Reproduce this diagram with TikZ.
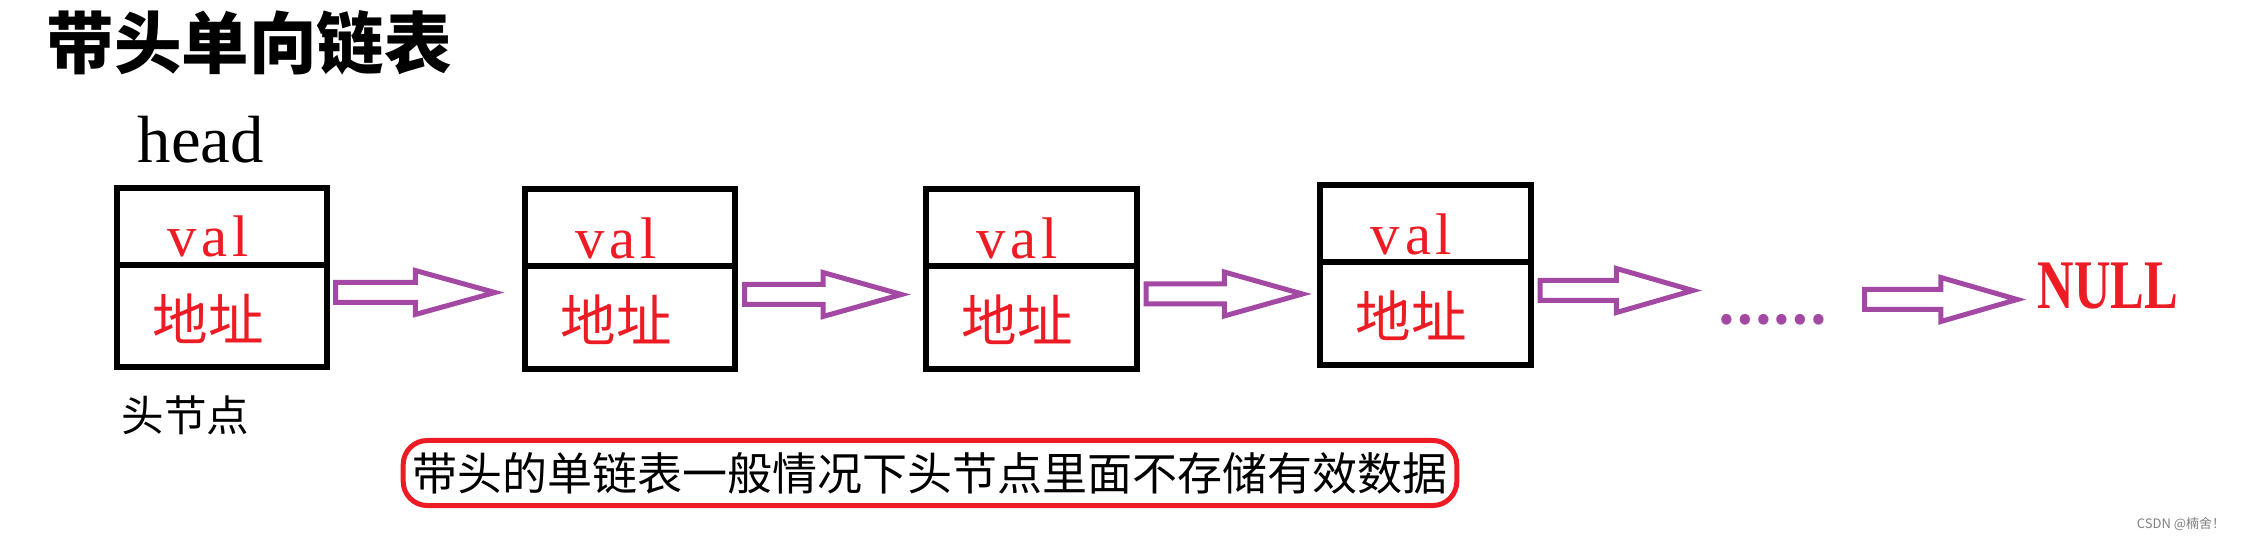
\documentclass[tikz,border=0pt]{standalone}
\usepackage{fontspec}
\usepackage{xcolor}
\usepackage{graphicx}
\usepackage{tikz}
\usetikzlibrary{calc,positioning}
\setmainfont{Liberation Serif}
\newfontfamily\cjk{Noto Sans CJK SC}
\newfontfamily\valfont{Liberation Serif}[LetterSpace=8]
\definecolor{llpurple}{HTML}{A349A4}
\definecolor{llred}{HTML}{ED1C24}

\begin{document}
\begin{tikzpicture}[
    x=0.01cm,y=-0.01cm,
    nodebox/.style={draw=black,line width=0.06cm,minimum width=2.1cm,minimum height=1.79cm,inner sep=0pt,outer sep=0pt},
    divline/.style={draw=black,line width=0.06cm},
    vallbl/.style={text=llred,font=\valfont\fontsize{16.7}{20}\selectfont,inner sep=0pt,anchor=base},
    addrlbl/.style={text=llred,font=\cjk\fontsize{15.8}{19}\selectfont,inner sep=0pt},
    blockarr/.style={draw=llpurple,line width=0.05cm,line join=miter,
      to path={let \p1=(\tikztostart),\p2=(\tikztotarget),\p3=($(\p1)!.5!(\x2,\y1)$) in
        ($(\p1)+(0,-10)$) -- ($(\p3)+(0,-10)$) -- ($(\p3)+(0,-22)$) -- (\x2,\y1)
        -- ($(\p3)+(0,22)$) -- ($(\p3)+(0,10)$) -- ($(\p1)+(0,10)$) -- cycle}}
  ]
    \useasboundingbox (0,0) rectangle (2244,543);
    \node[anchor=west,inner sep=0pt,font=\cjk\bfseries\fontsize{19.2}{23}\selectfont] (title) at (46,43) {带头单向链表};
    \node[anchor=base west,inner sep=0pt,font=\fontsize{19}{23}\selectfont] (headlbl) at (137,163) {head};
    \node[nodebox] (b1) at (222,277.5) {};
    \node[nodebox] (b2) at (630,279) {};
    \node[nodebox] (b3) at (1031.5,279) {};
    \node[nodebox] (b4) at (1425.5,275) {};
    \foreach \b in {b1,b2,b3,b4} {
      \draw[divline] ([shift={(0,77)}]\b.north west) -- ([shift={(3,77)}]\b.north east);
      \node[vallbl] (\b-val) at ([shift={(-14,69)}]\b.north) {val};
      \node[addrlbl] (\b-addr) at ([shift={(-14,41)}]\b.center) {地址};
    }
    \node[anchor=west,inner sep=0pt,font=\cjk\fontsize{12.1}{15}\selectfont] (headnote) at (121,415) {头节点};
    \node[inner sep=0pt,text=llpurple,font=\cjk\bfseries\fontsize{13.9}{16}\selectfont] (dots) at (1772.5,320) {……};
    \node[inner sep=0pt,text=llred,font=\bfseries\fontsize{19.8}{24}\selectfont] (null) at (2108,286) {\scalebox{0.725}[1]{NULL}};
    \node[draw=llred,line width=0.05cm,rounded corners=0.24cm,minimum width=10.53cm,minimum height=0.65cm,inner sep=0pt,font=\cjk\fontsize{12.8}{15}\selectfont] (note) at (930,473) {带头的单链表一般情况下头节点里面不存储有效数据};
    \node[text=gray,inner sep=0pt,font=\cjk\fontsize{3.7}{4.5}\selectfont] (mark) at (2181,524) {CSDN @楠舍！};
    \foreach \a/\b/\ax/\ay/\bx in {b1/b2/8.5/15/-30,b2/b3/9.5/15.5/-25,b3/b4/9.5/15/-18,b4/dots/9.5/15.5/-24,dots/null/36.5/-20.5/-20}
      \draw[blockarr] ([shift={(\ax,\ay)}]\a.east) to ([shift={(\bx,0)}]\b.west);
  \end{tikzpicture}
\end{document}
